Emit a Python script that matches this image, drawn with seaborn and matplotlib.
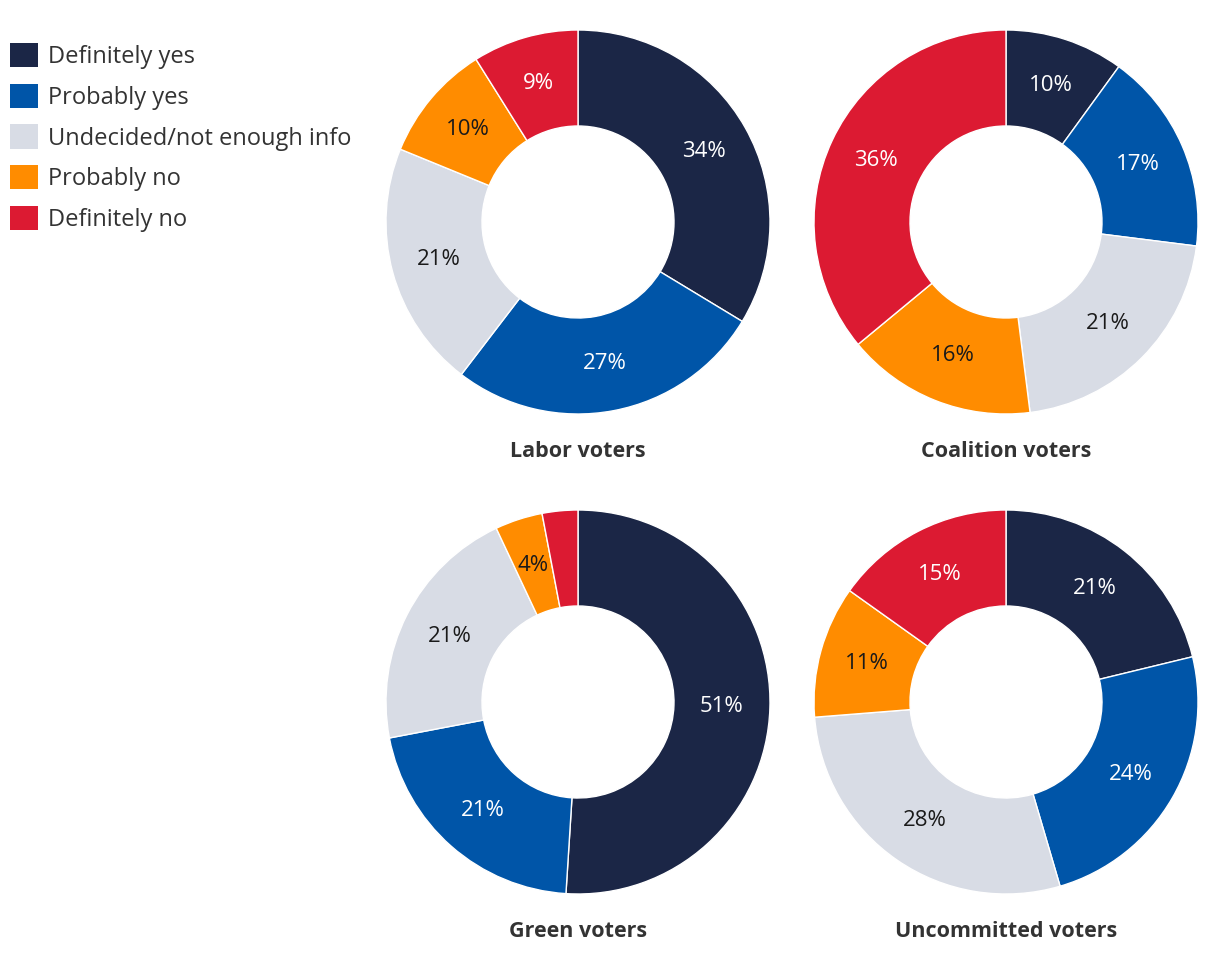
import matplotlib
matplotlib.use("Agg")
import matplotlib.pyplot as plt
from matplotlib.patches import Patch
import numpy as np
import seaborn as sns

categories = ["Definitely yes", "Probably yes", "Undecided/not enough info",
              "Probably no", "Definitely no"]
groups = ["Labor voters", "Coalition voters", "Green voters", "Uncommitted voters"]
labor = [34, 27, 21, 10, 9]
coalition = [10, 17, 21, 16, 36]
green = [51, 21, 21, 4, 3]
uncommitted = [21, 24, 28, 11, 15]
series = [labor, coalition, green, uncommitted]

colors = ["#1b2646", "#0055a8", "#d8dce5", "#ff8c00", "#dc1a32"]
label_colors = ["white", "white", "#1a1a1a", "#1a1a1a", "white"]

sns.set_theme(style="white")
plt.rcParams["font.family"] = ["Open Sans", "DejaVu Sans"]
pal = sns.color_palette(colors)

W, H = 1220, 980
fig = plt.figure(figsize=(W / 100, H / 100), dpi=100)

centers = [(578, 222), (1006, 222), (578, 702), (1006, 702)]
R = 192
title_y = [451, 451, 931, 931]

for idx, (vals, (cx, cy)) in enumerate(zip(series, centers)):
    ax = fig.add_axes([(cx - R) / W, (H - cy - R) / H, 2 * R / W, 2 * R / H])
    ax.pie(vals, colors=pal, startangle=90, counterclock=False,
           radius=1.0, wedgeprops=dict(width=0.5, edgecolor="white", linewidth=1))
    total = sum(vals)
    cum = 0
    for i, v in enumerate(vals):
        mid = 90 - 360 * (cum + v / 2) / total
        cum += v
        if v < 4:
            continue
        r = 0.75
        ax.text(r * np.cos(np.radians(mid)), r * np.sin(np.radians(mid)), f"{v}%",
                ha="center", va="center", fontsize=16, color=label_colors[i])
    ax.set_xlim(-1, 1)
    ax.set_ylim(-1, 1)
    ax.set_aspect("equal")
    ax.axis("off")
    fig.text(cx / W, 1 - title_y[idx] / H, groups[idx], ha="center", va="center",
             fontsize=15.5, fontweight="bold", color="#333333")

handles = [Patch(facecolor=c, edgecolor="none") for c in pal]
fig.legend(handles, categories, loc="upper left", bbox_to_anchor=(3 / W, 1 - 36 / H),
           frameon=False, fontsize=17, handlelength=1.2, handleheight=1.2,
           labelspacing=0.62, handletextpad=0.42, borderaxespad=0, borderpad=0.3,
           labelcolor="#333333")

fig.savefig("out.png", dpi=100, facecolor="white")
